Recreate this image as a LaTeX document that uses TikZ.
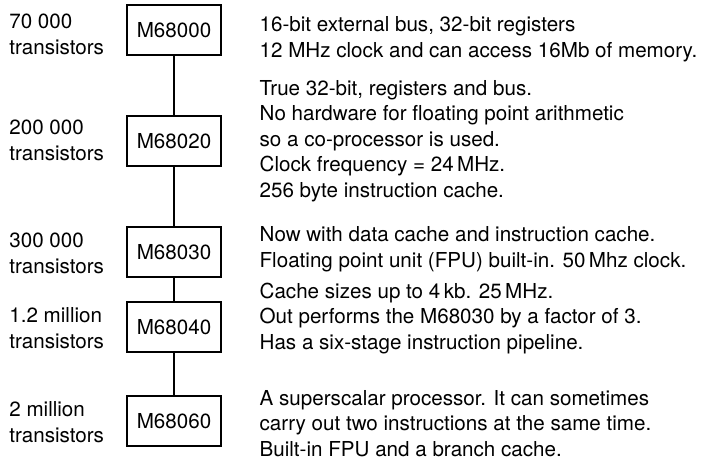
\documentclass[tikz,border=0pt]{standalone}
\usepackage{fontspec}
\setmainfont{TeX Gyre Heros}
\usetikzlibrary{positioning}

\begin{document}
\begin{tikzpicture}[
  font=\fontsize{20.6}{25.5}\selectfont,
  chip/.style={draw, line width=1.3pt, minimum width=94pt, minimum height=50pt, inner sep=0pt},
  count/.style={align=left, inner sep=0pt, outer sep=0pt, anchor=base west},
  note/.style={align=left, inner sep=0pt, outer sep=0pt, anchor=base west},
  link/.style={line width=1.3pt}
]
\useasboundingbox (0,0) rectangle (704pt,-459pt);
% the processor family, top to bottom
\node[chip] (m68000) at (174pt,-30pt) {M68000};
\node[chip, below=59.7pt of m68000] (m68020) {M68020};
\node[chip, below=59.7pt of m68020] (m68030) {M68030};
\node[chip, below=23.7pt of m68030] (m68040) {M68040};
\node[chip, below=42.7pt of m68040] (m68060) {M68060};
\draw[link] (m68000) -- (m68020);
\draw[link] (m68020) -- (m68030);
\draw[link] (m68030) -- (m68040);
\draw[link] (m68040) -- (m68060);
% transistor counts (base = last line)
\node[count] (c68000) at ([xshift=-117pt, yshift=-24pt]m68000.west) {70 000\\transistors};
\node[count] (c68020) at ([xshift=-117pt, yshift=-19pt]m68020.west) {200 000\\transistors};
\node[count] (c68030) at ([xshift=-117pt, yshift=-21pt]m68030.west) {300 000\\transistors};
\node[count] (c68040) at ([xshift=-117pt, yshift=-21pt]m68040.west) {1.2 million\\transistors};
\node[count] (c68060) at ([xshift=-117pt, yshift=-21pt]m68060.west) {2 million\\transistors};
% notes
\node[note] (n68000) at ([xshift=38pt, yshift=-27pt]m68000.east)
  {16-bit external bus, 32-bit registers\\12 MHz clock and can access 16Mb of memory.};
\node[note] (n68020) at ([xshift=38pt, yshift=-56pt]m68020.east)
  {True 32-bit, registers and bus.\\No hardware for floating point arithmetic\\so a co-processor is used.\\Clock frequency = 24\,MHz.\\256 byte instruction cache.};
\node[note] (n68030) at ([xshift=38pt, yshift=-15pt]m68030.east)
  {Now with data cache and instruction cache.\\Floating point unit (FPU) built-in. 50\,Mhz clock.};
\node[note] (n68040) at ([xshift=38pt, yshift=-22pt]m68040.east)
  {Cache sizes up to 4\,kb. 25\,MHz.\\Out performs the M68030 by a factor of 3.\\Has a six-stage instruction pipeline.};
\node[note] (n68060) at ([xshift=38pt, yshift=-35pt]m68060.east)
  {A superscalar processor. It can sometimes\\carry out two instructions at the same time.\\Built-in FPU and a branch cache.};
\end{tikzpicture}
\end{document}
